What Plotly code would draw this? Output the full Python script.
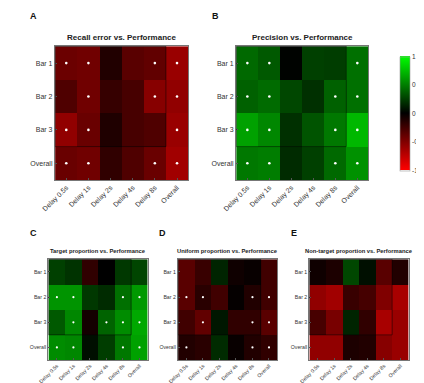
import plotly.graph_objects as go

delays = ["Delay 0.5s", "Delay 1s", "Delay 2s", "Delay 4s", "Delay 8s", "Overall"]
rows = ["Bar 1", "Bar 2", "Bar 3", "Overall"]

titles = ["Recall error vs. Performance", "Precision vs. Performance",
          "Target proportion vs. Performance", "Uniform proportion vs. Performance",
          "Non-target proportion vs. Performance"]
letters = ["A", "B", "C", "D", "E"]

recall_err = [
    [-0.42, -0.44, -0.13, -0.35, -0.38, -0.60],
    [-0.31, -0.44, -0.21, -0.28, -0.53, -0.57],
    [-0.57, -0.41, -0.12, -0.28, -0.31, -0.60],
    [-0.41, -0.44, -0.19, -0.31, -0.41, -0.63],
]
precision = [
    [0.41, 0.35, 0.01, 0.25, 0.24, 0.44],
    [0.38, 0.42, 0.28, 0.19, 0.38, 0.44],
    [0.63, 0.53, 0.19, 0.33, 0.47, 0.72],
    [0.47, 0.49, 0.17, 0.25, 0.41, 0.57],
]
target_prop = [
    [0.25, 0.20, -0.19, 0.00, 0.22, 0.27],
    [0.58, 0.58, 0.22, 0.17, 0.44, 0.60],
    [0.35, 0.53, -0.08, 0.39, 0.55, 0.66],
    [0.55, 0.53, 0.06, 0.24, 0.47, 0.63],
]
uniform_prop = [
    [-0.35, -0.22, 0.14, -0.06, -0.03, -0.25],
    [-0.35, -0.16, -0.25, -0.02, -0.13, -0.25],
    [-0.25, -0.38, 0.09, -0.19, -0.19, -0.35],
    [-0.13, -0.16, 0.17, -0.03, -0.13, -0.19],
]
nontarget_prop = [
    [-0.06, -0.11, 0.28, 0.06, -0.35, -0.13],
    [-0.57, -0.63, -0.22, -0.27, -0.50, -0.66],
    [-0.28, -0.47, 0.14, -0.19, -0.66, -0.60],
    [-0.57, -0.57, -0.11, -0.13, -0.53, -0.60],
]

# significance markers (1 = significant)
sig_recall = [
    [1, 1, 0, 0, 1, 1],
    [0, 1, 0, 0, 1, 1],
    [1, 1, 0, 0, 0, 1],
    [1, 1, 0, 0, 1, 1],
]
sig_precision = [
    [1, 1, 0, 0, 0, 1],
    [1, 1, 0, 0, 1, 1],
    [1, 1, 0, 0, 1, 1],
    [1, 1, 0, 0, 1, 1],
]
sig_target = [
    [0, 0, 0, 0, 0, 0],
    [1, 1, 0, 0, 1, 1],
    [0, 1, 0, 1, 1, 1],
    [1, 1, 0, 0, 1, 1],
]
sig_uniform = [
    [0, 0, 0, 0, 0, 0],
    [1, 1, 0, 0, 1, 1],
    [0, 1, 0, 0, 1, 1],
    [1, 0, 0, 0, 1, 1],
]
sig_nontarget = [
    [0, 0, 0, 0, 0, 0],
    [0, 0, 0, 0, 0, 0],
    [0, 0, 0, 0, 0, 0],
    [0, 0, 0, 0, 0, 0],
]

data = [recall_err, precision, target_prop, uniform_prop, nontarget_prop]
sigs = [sig_recall, sig_precision, sig_target, sig_uniform, sig_nontarget]

W, H = 424, 383
# pixel boxes: (left, right, top, bottom)
boxes = [(36, 178, 38, 172), (229, 370, 38, 172),
         (29, 135, 251, 352), (167, 273, 251, 352), (307, 413, 251, 352)]
title_y = [29, 29, 243, 243, 243]
letter_pos = [(7, 8), (201, 8), (7, 225), (145, 225), (285, 225)]
title_size = [8, 8, 5.8, 5.8, 5.8]
tick_size = [7, 7, 5.2, 5.2, 5.2]

FONT = "Liberation Sans, Arial, sans-serif"
TXT = "#333333"
fig = go.Figure()
layout = dict(width=W, height=H, margin=dict(l=0, r=0, t=0, b=0),
              paper_bgcolor="white", plot_bgcolor="white",
              font=dict(family=FONT, color=TXT),
              showlegend=False,
              coloraxis=dict(cmin=-1, cmax=1,
                             colorscale=[[0, "#FF0000"], [0.5, "#000000"], [1, "#00FF00"]],
                             colorbar=dict(x=393 / W, xanchor="left", y=1 - 105.5 / H,
                                           yanchor="middle", len=134 / H, lenmode="fraction",
                                           thickness=10, outlinewidth=0.6, outlinecolor="#999",
                                           tickvals=[-1, -0.5, 0, 0.5, 1],
                                           ticktext=["-1", "-0.5", "0", "0.5", "1"],
                                           ticks="", tickfont=dict(size=6.5, family=FONT,
                                                                   color=TXT))))
annotations = []
shapes = []
for i in range(5):
    ax = "" if i == 0 else str(i + 1)
    l, r, t, b = boxes[i]
    fig.add_trace(go.Heatmap(z=data[i], x=delays, y=rows, coloraxis="coloraxis",
                             xaxis="x" + ax, yaxis="y" + ax, xgap=0, ygap=0,
                             hoverinfo="skip"))
    sx, sy = [], []
    for ri, row in enumerate(sigs[i]):
        for ci, v in enumerate(row):
            if v:
                sx.append(delays[ci])
                sy.append(rows[ri])
    fig.add_trace(go.Scatter(x=sx, y=sy, mode="markers", xaxis="x" + ax, yaxis="y" + ax,
                             marker=dict(color="white", size=2.6 if i < 2 else 2.2,
                                         line=dict(width=0)), hoverinfo="skip"))
    layout["xaxis" + ax] = dict(domain=[l / W, r / W], anchor="y" + ax,
                                tickangle=-45,
                                tickfont=dict(size=tick_size[i], color=TXT, family=FONT),
                                showline=True, linecolor="#777", linewidth=0.8, mirror=True,
                                ticks="inside", ticklen=2, tickcolor="#555",
                                showgrid=False, zeroline=False, fixedrange=True)
    layout["yaxis" + ax] = dict(domain=[1 - b / H, 1 - t / H], anchor="x" + ax,
                                autorange="reversed",
                                tickfont=dict(size=tick_size[i], color=TXT, family=FONT),
                                showline=True, linecolor="#777", linewidth=0.8, mirror=True,
                                ticks="inside", ticklen=2, tickcolor="#555",
                                showgrid=False, zeroline=False, fixedrange=True)
    annotations.append(dict(text="<b>" + titles[i] + "</b>", x=(l + r) / 2 / W,
                            y=1 - title_y[i] / H, xref="paper", yref="paper",
                            showarrow=False, xanchor="center", yanchor="middle",
                            font=dict(size=title_size[i], color="#222")))
    lx, ly = letter_pos[i]
    annotations.append(dict(text="<b>" + letters[i] + "</b>", x=lx / W, y=1 - ly / H,
                            xref="paper", yref="paper", showarrow=False,
                            xanchor="left", yanchor="middle",
                            font=dict(size=9, color="#111")))
    # outline around per-bar / per-delay block
    shapes.append(dict(type="rect", xref="x" + ax, yref="y" + ax,
                       x0=-0.5, x1=len(delays) - 1.5, y0=-0.5, y1=len(rows) - 1.5,
                       line=dict(color="rgba(0,0,0,0.6)", width=0.8)))

layout["annotations"] = annotations
layout["shapes"] = shapes
fig.update_layout(**layout)
fig.write_html("out.html")
